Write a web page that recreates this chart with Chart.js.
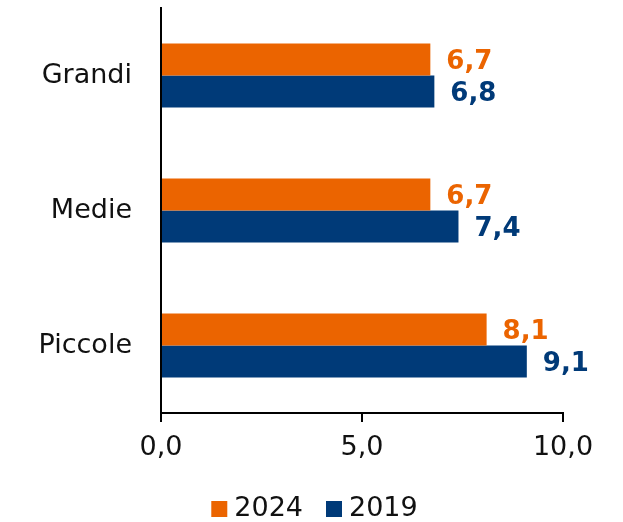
<!DOCTYPE html>
<html lang="it">
<head>
    <meta charset="UTF-8">
    <title>Chart</title>
    <style>
        body { margin: 0; padding: 0; background: #fff; }
        #wrap { width: 623px; height: 522px; }
    </style>
    <script src="https://cdn.jsdelivr.net/npm/chart.js@4/dist/chart.umd.min.js"></script>
</head>
<body>
<div id="wrap"><canvas id="chart" width="623" height="522"></canvas></div>
<script>
    const categories = ['Grandi', 'Medie', 'Piccole'];
    const values2024 = [6.7, 6.7, 8.1];
    const values2019 = [6.8, 7.4, 9.1];
    const xTicks = [0, 5, 10];

    const ORANGE = '#EB6400';
    const BLUE = '#003A78';
    const FONT = '"DejaVu Sans", sans-serif';

    function fmt(v) { return v.toFixed(1).replace('.', ','); }

    // value labels right of each bar
    const valueLabels = {
        id: 'valueLabels',
        afterDatasetsDraw(chart) {
            const ctx = chart.ctx;
            ctx.save();
            ctx.font = 'bold 26px ' + FONT;
            ctx.textBaseline = 'middle';
            ctx.textAlign = 'left';
            chart.data.datasets.forEach((ds, i) => {
                chart.getDatasetMeta(i).data.forEach((bar, j) => {
                    ctx.fillStyle = ds.backgroundColor;
                    ctx.fillText(fmt(ds.data[j]), bar.x + 16, bar.y + 3);
                });
            });
            ctx.restore();
        }
    };

    // compact legend under the axis (square, small gap, text)
    const bottomLegend = {
        id: 'bottomLegend',
        afterDraw(chart) {
            const ctx = chart.ctx;
            const box = 16, gap = 7, itemGap = 23;
            ctx.save();
            ctx.font = '27px ' + FONT;
            ctx.textBaseline = 'middle';
            ctx.textAlign = 'left';
            const items = chart.data.datasets.map(ds => ({
                text: ds.label, color: ds.backgroundColor,
                w: box + gap + ctx.measureText(ds.label).width
            }));
            const total = items.reduce((a, it) => a + it.w, 0) + itemGap * (items.length - 1);
            let x = (chart.width - total) / 2 + 3;
            const y = 509;
            items.forEach(it => {
                ctx.fillStyle = it.color;
                ctx.fillRect(x, y - box / 2, box, box);
                ctx.fillStyle = '#111';
                ctx.fillText(it.text, x + box + gap, y);
                x += it.w + itemGap;
            });
            ctx.restore();
        }
    };

    new Chart(document.getElementById('chart'), {
        type: 'bar',
        data: {
            labels: categories,
            datasets: [
                { label: '2024', data: values2024, backgroundColor: ORANGE },
                { label: '2019', data: values2019, backgroundColor: BLUE }
            ]
        },
        options: {
            indexAxis: 'y',
            responsive: false,
            animation: false,
            datasets: { bar: { categoryPercentage: 0.474, barPercentage: 1 } },
            layout: { padding: { top: 8, right: 60, bottom: 37, left: 0 } },
            scales: {
                x: {
                    min: 0, max: 10,
                    afterBuildTicks: s => { s.ticks = xTicks.map(v => ({ value: v })); },
                    afterFit: s => { s.height = 72; },
                    border: { color: '#000', width: 2 },
                    grid: { drawOnChartArea: false, drawTicks: true, tickLength: 9, color: '#000', lineWidth: 2 },
                    ticks: { color: '#111', font: { size: 27, family: FONT }, padding: 10, callback: v => fmt(v) }
                },
                y: {
                    afterFit: s => { s.width = 161; s.paddingTop = 0; s.paddingBottom = 0; },
                    border: { color: '#000', width: 2 },
                    grid: { display: false },
                    ticks: { color: '#111', font: { size: 27, family: FONT }, padding: 21 }
                }
            },
            plugins: {
                legend: { display: false },
                tooltip: { enabled: false }
            }
        },
        plugins: [valueLabels, bottomLegend]
    });
</script>
</body>
</html>
